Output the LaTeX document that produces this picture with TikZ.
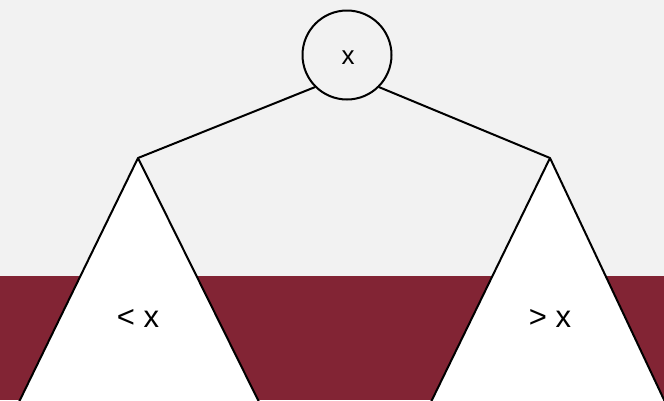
\documentclass[tikz,border=0pt]{standalone}
\usepackage{fontspec}
\setmainfont{Liberation Sans}
\definecolor{bgGray}{RGB}{242,242,242}
\definecolor{bandRed}{RGB}{130,36,52}

\begin{document}
\begin{tikzpicture}[
	x=1pt, y=-1pt,
	key/.style={circle, draw=black, line width=2pt, fill=bgGray, minimum size=89pt, inner sep=0pt},
	keytext/.style={font=\fontsize{26}{30}\selectfont, inner sep=0pt},
	subtree/.style={fill=white, draw=none},
	side/.style={draw=black, line width=2pt, line join=round},
	rangetext/.style={font=\fontsize{31}{36}\selectfont, inner sep=0pt},
	edge/.style={draw=black, line width=2pt}
]
\useasboundingbox (0,0) rectangle (664,400);
% background
\fill[bgGray] (0,0) rectangle (664,276);
\fill[bandRed] (0,276) rectangle (664,400);
% root
\node (root) [key] at (347,55) {};
\node (rootkey) [keytext] at (348,58) {x};
\coordinate (lapex) at (138,158);
\coordinate (rapex) at (550,158);
% subtrees
\path[subtree] (lapex) -- (18,404) -- (260,404) -- cycle;
\path[subtree] (rapex) -- (430,404) -- (666,404) -- cycle;
\draw[side] (18,404) -- (lapex) -- (260,404);
\draw[side] (430,404) -- (rapex) -- (666,404);
\node (less) [rangetext] at (138,318) {< x};
\node (more) [rangetext] at (550,318) {> x};
% edges
\draw[edge] (root.south west) -- (lapex);
\draw[edge] (root.south east) -- (rapex);
\end{tikzpicture}
\end{document}
